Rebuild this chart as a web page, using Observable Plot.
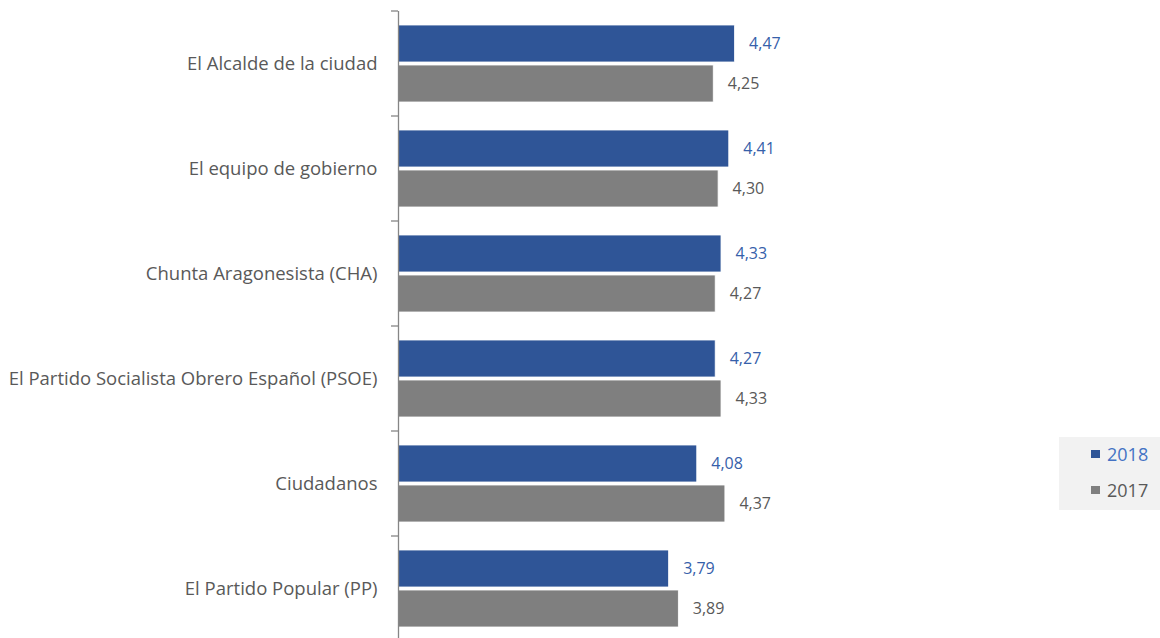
<!DOCTYPE html>
<html>
<head>
<meta charset="utf-8">
<script src="https://cdn.jsdelivr.net/npm/d3@7"></script>
<script src="https://cdn.jsdelivr.net/npm/@observablehq/plot@0.6"></script>
<style>
  html, body { margin: 0; padding: 0; overflow: hidden; background: #fff; }
  #wrap { position: relative; width: 1160px; height: 638px; }
  #legend { position: absolute; left: 1059px; top: 437px; width: 101px; height: 73px; background: #F2F2F2;
    font-family: "Open Sans", sans-serif; font-size: 18px; }
  .item { position: absolute; left: 32px; display: flex; align-items: center; }
  .sw { width: 9px; height: 8px; margin-right: 7px; }
</style>
</head>
<body>
<div id="wrap"></div>
<script>
const categories = [
  "El Alcalde de la ciudad",
  "El equipo de gobierno",
  "Chunta Aragonesista (CHA)",
  "El Partido Socialista Obrero Español (PSOE)",
  "Ciudadanos",
  "El Partido Popular (PP)"
];
const series = ["2018", "2017"];
const values2018 = [4.47, 4.41, 4.33, 4.27, 4.08, 3.79];
const values2017 = [4.25, 4.30, 4.27, 4.33, 4.37, 3.89];
const colors = { "2018": "#2F5597", "2017": "#7F7F7F" };
const labelColors = { "2018": "#3660AA", "2017": "#595959" };

const rows2018 = categories.map((c, i) => ({ cat: c, year: "2018", v: values2018[i] }));
const rows2017 = categories.map((c, i) => ({ cat: c, year: "2017", v: values2017[i] }));
const fmt = d => d.toFixed(2).replace(".", ",");
const font = '"Open Sans", sans-serif';

const plot = Plot.plot({
  width: 1160,
  height: 641,
  marginLeft: 398,
  marginRight: 374,
  marginTop: 11,
  marginBottom: 0,
  style: { fontFamily: font, background: "white" },
  x: { domain: [1, 5], axis: null },
  y: { domain: categories, padding: 0, label: null },
  marks: [
    Plot.barX(rows2018, { y: "cat", x1: 1, x2: "v", fill: colors["2018"], stroke: "white", strokeWidth: 0.8, insetTop: 14, insetBottom: 54 }),
    Plot.barX(rows2017, { y: "cat", x1: 1, x2: "v", fill: colors["2017"], stroke: "white", strokeWidth: 0.8, insetTop: 54, insetBottom: 14 }),
    Plot.text(rows2018, { y: "cat", x: "v", text: d => fmt(d.v), dx: 14, dy: -20, textAnchor: "start", fill: labelColors["2018"], fontSize: 16 }),
    Plot.text(rows2017, { y: "cat", x: "v", text: d => fmt(d.v), dx: 14, dy: 20, textAnchor: "start", fill: labelColors["2017"], fontSize: 16 }),
    Plot.axisY({ tickSize: 0, tickPadding: 21, fontSize: 18.5, fill: "#595959", label: null }),
    Plot.ruleX([1], { stroke: "#868686", strokeWidth: 1.3 })
  ]
});

// boundary tick marks (Excel-style category ticks between bands)
const ys = plot.scale("y");
const xs = plot.scale("x");
const svg = d3.select(plot.tagName === "svg" ? plot : plot.querySelector("svg"));
const x0 = xs.apply(1);
const bounds = categories.map(c => ys.apply(c)).concat([ys.apply(categories[categories.length - 1]) + ys.bandwidth]);
svg.append("g").selectAll("line").data(bounds).join("line")
  .attr("x1", x0 - 7).attr("x2", x0)
  .attr("y1", d => d).attr("y2", d => d)
  .attr("stroke", "#868686").attr("stroke-width", 1.3);

document.getElementById("wrap").appendChild(plot);

// legend
const legend = document.createElement("div");
legend.id = "legend";
series.forEach((s, i) => {
  const it = document.createElement("div");
  it.className = "item";
  it.style.top = (i === 0 ? 5 : 41) + "px";
  it.innerHTML = `<span class="sw" style="background:${colors[s]}"></span><span style="color:${s === "2018" ? "#4472C4" : "#595959"}">${s}</span>`;
  legend.appendChild(it);
});
document.getElementById("wrap").appendChild(legend);
</script>
</body>
</html>
